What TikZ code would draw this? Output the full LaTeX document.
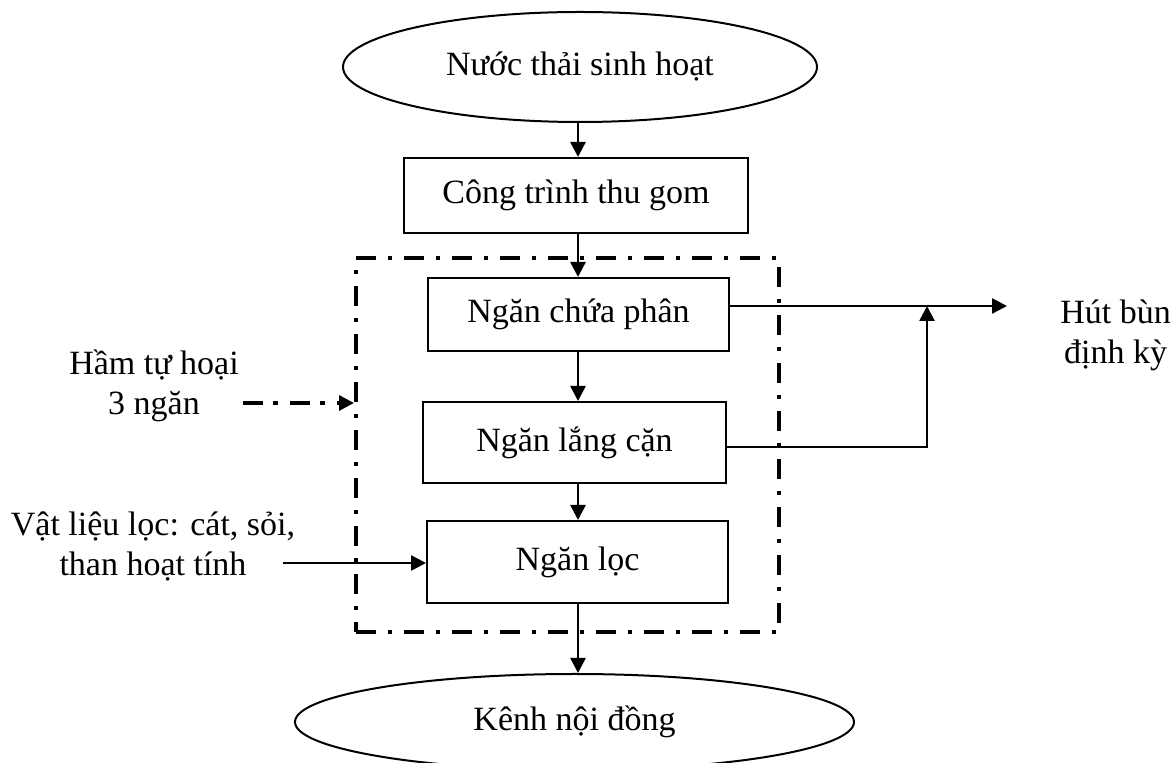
\documentclass[tikz,border=0pt]{standalone}
\usepackage{fontspec}
\setmainfont{Liberation Serif}
\usetikzlibrary{arrows.meta,positioning,shapes.geometric}

\begin{document}
\begin{tikzpicture}[x=0.5pt,y=-0.5pt, font=\fontsize{17}{20}\selectfont, box/.style={draw,line width=1pt,minimum width=150.5pt,minimum height=36.5pt,inner sep=0pt}, oval/.style={draw,ellipse,line width=1pt,inner sep=0pt}, flow/.style={-{Triangle[length=7.5pt,width=7.5pt]},line width=1.3pt}, dashdot/.style={line width=2pt,dash pattern=on 10pt off 6pt on 2pt off 6pt}, >=Stealth]
\useasboundingbox (0,0) rectangle (1173,763);
\node[oval,minimum width=237pt,minimum height=55pt] (src) at (580,67) {Nước thải sinh hoạt};
\node[box,minimum width=172pt,minimum height=37.5pt] (thu) at (576,195.5) {Công trình thu gom};
\node[draw,dashdot,minimum width=211.5pt,minimum height=187pt,inner sep=0pt] (ham) at (567.5,445) {};
\node[box] (chua) at (578.5,314.5) {Ngăn chứa phân};
\node[box,minimum width=151.5pt,minimum height=40.5pt] (lang) at (574.5,442.5) {Ngăn lắng cặn};
\node[box,minimum height=41pt] (loc) at (577.5,562) {Ngăn lọc};
\node[oval,minimum width=279.5pt,minimum height=48pt] (kenh) at (574.5,722) {Kênh nội đồng};
\node[align=center,anchor=west,inner sep=0pt] (hut) at (1060,335) {Hút bùn\\định kỳ};
\node[align=center] (hamlbl) at (154,386) {Hầm tự hoại\\3 ngăn};
\node[align=center] (vatlieu) at (153,546) {Vật liệu lọc: cát, sỏi,\\than hoạt tính};
\coordinate (axis) at (578,0);
\coordinate (hutin) at (1007,306);
\coordinate (nhanh) at (927,306);
\coordinate (hamin) at (243,403);
\coordinate (vlin) at (283,563);
% main line
\draw[flow] (src.south -| axis) -- (thu.north -| axis);
\draw[flow] (thu.south -| axis) -- (chua.north -| axis);
\draw[flow] (chua.south -| axis) -- (lang.north -| axis);
\draw[flow] (lang.south -| axis) -- (loc.north -| axis);
\draw[flow] (loc.south -| axis) -- (kenh.north -| axis);
% sludge and inputs
\draw[flow] (chua.east |- nhanh) -- (hutin);
\draw[flow] ([yshift=-2.25pt]lang.east) -| (nhanh);
\draw[flow,dash pattern=on 10pt off 5pt on 2.5pt off 6pt,line width=1.6pt] (hamin) -- (hamin -| ham.west);
\draw[flow] (vlin) -- (vlin -| loc.west);
\end{tikzpicture}
\end{document}
